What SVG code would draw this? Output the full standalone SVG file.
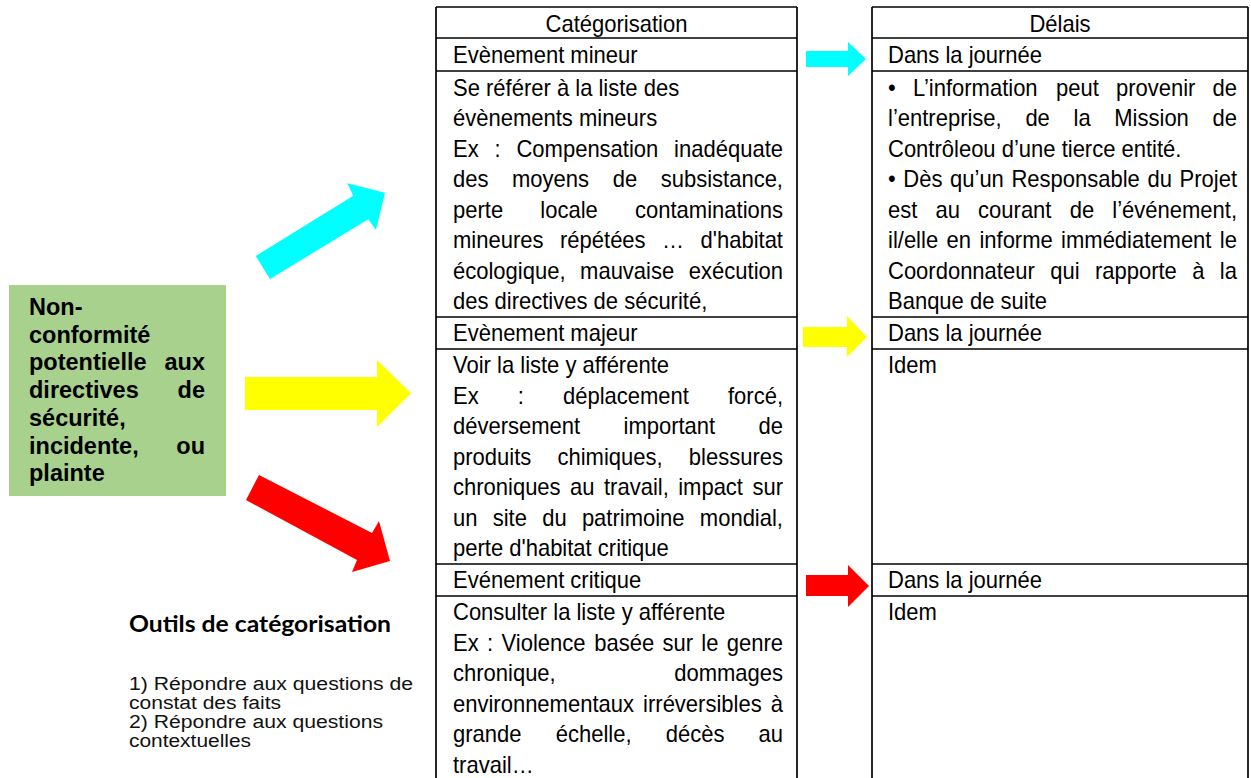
<svg xmlns="http://www.w3.org/2000/svg" width="1251" height="778" viewBox="0 0 1251 778">
<style>
.t{font-family:"Liberation Sans",Arial,sans-serif;font-size:24px;fill:#000}
.e{text-anchor:end}
.c{text-anchor:middle}
.g{font-family:"Liberation Sans",Arial,sans-serif;font-size:23.5px;font-weight:bold;fill:#000}
.l{font-family:"Liberation Sans",Arial,sans-serif;font-size:18px;fill:#111}
.grid{stroke:#000;stroke-width:1.7;fill:none}
</style>
<rect width="1251" height="778" fill="#fff"/>

<g id="node-source">
<rect x="9" y="285" width="217" height="211" fill="#A9D18E"/>
<text class="g" x="29" y="315">Non-</text>
<text class="g" x="29" y="342.7">conformité</text>
<text class="g" x="29" y="370.4">potentielle</text><text class="g e" x="205" y="370.4">aux</text>
<text class="g" x="29" y="398.1">directives</text><text class="g e" x="205" y="398.1">de</text>
<text class="g" x="29" y="425.8">sécurité,</text>
<text class="g" x="29" y="453.5">incidente,</text><text class="g e" x="205" y="453.5">ou</text>
<text class="g" x="29" y="481.2">plainte</text>
</g>

<g id="connectors">
<polygon fill="#00FFFF" points="255.7,256 353.3,195.7 347.3,183.3 385,192.7 376,230 368.3,219.3 270,279"/>
<polygon fill="#FFFF00" points="245,377 377,377 377,360 411,393.3 377,427 377,410 245,410"/>
<polygon fill="#FF0000" points="259,475 372,533 379,521 390,561 352,572 357,560 246,500"/>
<polygon fill="#00FFFF" points="806,51 848,51 848,42 866,59 848,76 848,67 806,67"/>
<polygon fill="#FFFF00" points="803,327 847,327 847,316 867,337 847,357 847,347 803,347"/>
<polygon fill="#FF0000" points="806,575 848,575 848,565 869,586 848,607 848,596 806,596"/>
</g>

<g id="node-categorisation">
<g class="grid">
<line x1="436" y1="7" x2="436" y2="778"/>
<line x1="797" y1="7" x2="797" y2="778"/>
<line x1="436" y1="7" x2="797" y2="7"/>
<line x1="436" y1="38" x2="797" y2="38"/>
<line x1="436" y1="71" x2="797" y2="71"/>
<line x1="436" y1="317" x2="797" y2="317"/>
<line x1="436" y1="349" x2="797" y2="349"/>
<line x1="436" y1="564" x2="797" y2="564"/>
<line x1="436" y1="596" x2="797" y2="596"/>
</g>
<g transform="translate(453 0) scale(0.91667 1)">
<text class="t c" x="178.36" y="32">Catégorisation</text>
<text class="t" x="0" y="63">Evènement mineur</text>
<text class="t" x="0" y="96">Se référer à la liste des</text>
<text class="t" x="0" y="126.5">évènements mineurs</text>
<text class="t" x="0" y="157">Ex</text><text class="t" x="45.27" y="157">:</text><text class="t" x="69.27" y="157">Compensation</text><text class="t e" x="360" y="157">inadéquate</text>
<text class="t" x="0" y="187.5">des</text><text class="t" x="64.36" y="187.5">moyens</text><text class="t" x="174.22" y="187.5">de</text><text class="t e" x="360" y="187.5">subsistance,</text>
<text class="t" x="0" y="218">perte</text><text class="t" x="95.24" y="218">locale</text><text class="t e" x="360" y="218">contaminations</text>
<text class="t" x="0" y="248.5">mineures</text><text class="t" x="116.73" y="248.5">répétées</text><text class="t" x="228" y="248.5">…</text><text class="t e" x="360" y="248.5">d'habitat</text>
<text class="t" x="0" y="279">écologique,</text><text class="t" x="138.65" y="279">mauvaise</text><text class="t e" x="360" y="279">exécution</text>
<text class="t" x="0" y="309.5">des directives de sécurité,</text>

<text class="t" x="0" y="341">Evènement majeur</text>
<text class="t" x="0" y="373.5">Voir la liste y afférente</text>
<text class="t" x="0" y="404">Ex</text><text class="t" x="70.69" y="404">:</text><text class="t" x="120" y="404">déplacement</text><text class="t e" x="360" y="404">forcé,</text>
<text class="t" x="0" y="434.5">déversement</text><text class="t" x="186" y="434.5">important</text><text class="t e" x="360" y="434.5">de</text>
<text class="t" x="0" y="465">produits</text><text class="t" x="114" y="465">chimiques,</text><text class="t e" x="360" y="465">blessures</text>
<text class="t" x="0" y="495.5">chroniques</text><text class="t" x="127.64" y="495.5">au</text><text class="t" x="164.73" y="495.5">travail,</text><text class="t" x="245.67" y="495.5">impact</text><text class="t e" x="360" y="495.5">sur</text>
<text class="t" x="0" y="526">un</text><text class="t" x="43.31" y="526">site</text><text class="t" x="97.31" y="526">du</text><text class="t" x="140.62" y="526">patrimoine</text><text class="t e" x="360" y="526">mondial,</text>
<text class="t" x="0" y="556.5">perte d'habitat critique</text>

<text class="t" x="0" y="588">Evénement critique</text>
<text class="t" x="0" y="620.5">Consulter la liste y afférente</text>
<text class="t" x="0" y="651">Ex</text><text class="t" x="37.09" y="651">:</text><text class="t" x="52.91" y="651">Violence</text><text class="t" x="154.04" y="651">basée</text><text class="t" x="228.44" y="651">sur</text><text class="t" x="270.87" y="651">le</text><text class="t e" x="360" y="651">genre</text>
<text class="t" x="0" y="681.5">chronique,</text><text class="t e" x="360" y="681.5">dommages</text>
<text class="t" x="0" y="712">environnementaux</text><text class="t" x="207.38" y="712">irréversibles</text><text class="t e" x="360" y="712">à</text>
<text class="t" x="0" y="742.5">grande</text><text class="t" x="112.04" y="742.5">échelle,</text><text class="t" x="232.04" y="742.5">décès</text><text class="t e" x="360" y="742.5">au</text>
<text class="t" x="0" y="773">travail…</text>
</g>
</g>

<g id="node-delais">
<g class="grid">
<line x1="872" y1="7" x2="872" y2="778"/>
<line x1="1248" y1="7" x2="1248" y2="778"/>
<line x1="872" y1="7" x2="1248" y2="7"/>
<line x1="872" y1="38" x2="1248" y2="38"/>
<line x1="872" y1="71" x2="1248" y2="71"/>
<line x1="872" y1="317" x2="1248" y2="317"/>
<line x1="872" y1="349" x2="1248" y2="349"/>
<line x1="872" y1="564" x2="1248" y2="564"/>
<line x1="872" y1="596" x2="1248" y2="596"/>
</g>
<g transform="translate(888 0) scale(0.91667 1)">
<text class="t c" x="187.64" y="32">Délais</text>
<text class="t" x="0" y="63">Dans la journée</text>
<text class="t" x="0" y="96">•</text><text class="t" x="27.16" y="96">L’information</text><text class="t" x="183.27" y="96">peut</text><text class="t" x="248.62" y="96">provenir</text><text class="t e" x="380.73" y="96">de</text>
<text class="t" x="0" y="126.5">l’entreprise,</text><text class="t" x="149.89" y="126.5">de</text><text class="t" x="202.36" y="126.5">la</text><text class="t" x="246.87" y="126.5">Mission</text><text class="t e" x="380.73" y="126.5">de</text>
<text class="t" x="0" y="157">Contrôleou d’une tierce entité.</text>
<text class="t" x="0" y="187.5">•</text><text class="t" x="16.7" y="187.5">Dès</text><text class="t" x="67.68" y="187.5">qu’un</text><text class="t" x="134.68" y="187.5">Responsable</text><text class="t" x="283.05" y="187.5">du</text><text class="t e" x="380.73" y="187.5">Projet</text>
<text class="t" x="0" y="218">est</text><text class="t" x="51.82" y="218">au</text><text class="t" x="98.29" y="218">courant</text><text class="t" x="198.22" y="218">de</text><text class="t e" x="380.73" y="218">l’événement,</text>
<text class="t" x="0" y="248.5">il/elle</text><text class="t" x="63.82" y="248.5">en</text><text class="t" x="99.71" y="248.5">informe</text><text class="t" x="188.84" y="248.5">immédiatement</text><text class="t e" x="380.73" y="248.5">le</text>
<text class="t" x="0" y="279">Coordonnateur</text><text class="t" x="176.95" y="279">qui</text><text class="t" x="225.71" y="279">rapporte</text><text class="t" x="331.96" y="279">à</text><text class="t e" x="380.73" y="279">la</text>
<text class="t" x="0" y="309.5">Banque de suite</text>
<text class="t" x="0" y="341">Dans la journée</text>
<text class="t" x="0" y="373.5">Idem</text>
<text class="t" x="0" y="588">Dans la journée</text>
<text class="t" x="0" y="620.5">Idem</text>
</g>
</g>

<g id="node-outils">
<text x="129" y="632" font-family="Lato,'Liberation Sans',sans-serif" font-size="23.5" font-weight="bold" fill="#000" textLength="262" lengthAdjust="spacingAndGlyphs">Outils de catégorisation</text>
<text class="l" x="129" y="690" textLength="284" lengthAdjust="spacingAndGlyphs">1) Répondre aux questions de</text>
<text class="l" x="129" y="709" textLength="152" lengthAdjust="spacingAndGlyphs">constat des faits</text>
<text class="l" x="129" y="728" textLength="254" lengthAdjust="spacingAndGlyphs">2) Répondre aux questions</text>
<text class="l" x="129" y="747" textLength="122" lengthAdjust="spacingAndGlyphs">contextuelles</text>
</g>
</svg>
